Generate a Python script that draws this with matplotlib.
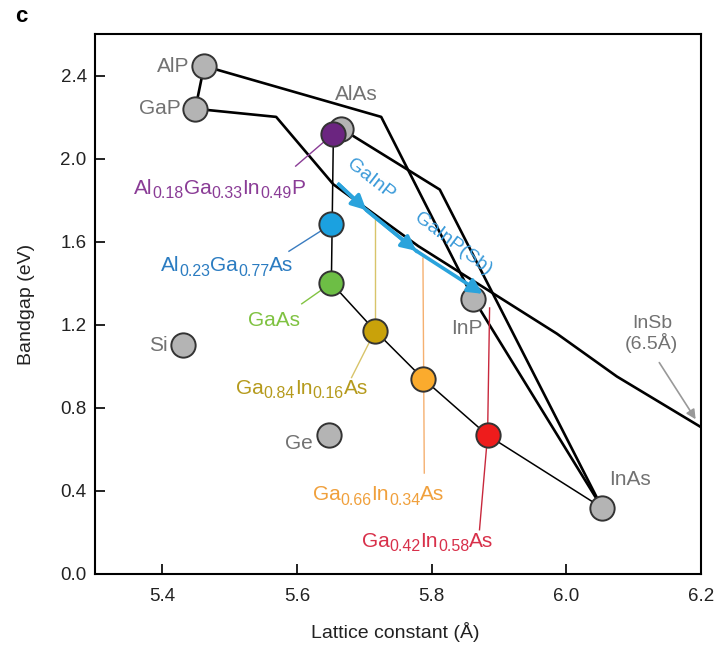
import re
import matplotlib
matplotlib.use('Agg')
import matplotlib.pyplot as plt

plt.rcParams['font.family'] = ['Liberation Sans', 'DejaVu Sans']

# ---------------- data ----------------
# binary / elemental semiconductors (gray circles)
binary_names = ['AlP', 'GaP', 'AlAs', 'InP', 'InAs', 'Si', 'Ge']
binary_a = [5.462, 5.449, 5.666, 5.862, 6.053, 5.431, 5.647]
binary_eg = [2.446, 2.240, 2.144, 1.325, 0.319, 1.104, 0.668]

# alloys (coloured circles)
alloy_labels = ['Al_{0.18}Ga_{0.33}In_{0.49}P',
                'Al_{0.23}Ga_{0.77}As',
                'GaAs',
                'Ga_{0.84}In_{0.16}As',
                'Ga_{0.66}In_{0.34}As',
                'Ga_{0.42}In_{0.58}As']
alloy_a = [5.654, 5.651, 5.651, 5.716, 5.787, 5.883]
alloy_eg = [2.120, 1.684, 1.401, 1.171, 0.941, 0.668]

# alloy lines (lattice constant, bandgap)
alp_gap_a, alp_gap_eg = [5.462, 5.449], [2.446, 2.240]
alp_inp_a, alp_inp_eg = [5.462, 5.725, 5.862], [2.446, 2.201, 1.325]
gap_insb_a = [5.449, 5.569, 5.654, 5.780, 5.883, 5.986, 6.075, 6.200]
gap_insb_eg = [2.240, 2.201, 1.876, 1.579, 1.368, 1.157, 0.951, 0.707]
alas_inas_a, alas_inas_eg = [5.666, 5.812, 6.053], [2.144, 1.851, 0.319]
inp_inas_a, inp_inas_eg = [5.862, 6.053], [1.325, 0.319]
alas_gaas_a, alas_gaas_eg = [5.654, 5.651], [2.120, 1.401]
gaas_inas_a = [5.651, 5.716, 5.787, 5.883, 6.053]
gaas_inas_eg = [1.401, 1.171, 0.941, 0.668, 0.319]

# GaInP arrow path
gainp_a = [5.662, 5.703, 5.777, 5.876]
gainp_eg = [1.876, 1.752, 1.556, 1.349]

xticks = [5.4, 5.6, 5.8, 6.0, 6.2]
yticks = [0.0, 0.4, 0.8, 1.2, 1.6, 2.0, 2.4]

# ---------------- styling ----------------
gray_fill = '#b4b4b4'
edge = '#333333'
txt_gray = '#727272'
alloy_fill = ['#6b2580', '#1ba1e0', '#6dbe45', '#c9a20a', '#fbab2d', '#ee1c1c']
alloy_txt = ['#8a3c96', '#2b7cc1', '#7fc241', '#b59a1c', '#f0a03c', '#d8304a']
alloy_lead = ['#8a3c96', '#3a7cc0', '#82c341', '#d8c46a', '#f5b070', '#c8283c']
blue_arrow = '#2aa3dc'

fig = plt.figure(figsize=(7.21, 6.48), dpi=100)
ax = fig.add_axes([0.1318, 0.1142, 0.8405, 0.8333])
ax.set_xlim(5.3, 6.2)
ax.set_ylim(0, 2.6)
renderer = fig.canvas.get_renderer()

thick = 1.9
thin = 1.1
ax.plot(alp_gap_a, alp_gap_eg, color='k', lw=thick, zorder=2)
ax.plot(alp_inp_a, alp_inp_eg, color='k', lw=thick, zorder=2)
ax.plot(gap_insb_a, gap_insb_eg, color='k', lw=thick, zorder=2, solid_joinstyle='round')
ax.plot(alas_inas_a, alas_inas_eg, color='k', lw=thick, zorder=2)
ax.plot(inp_inas_a, inp_inas_eg, color='k', lw=thick, zorder=2)
ax.plot(alas_gaas_a, alas_gaas_eg, color='k', lw=thin, zorder=2)
ax.plot(gaas_inas_a, gaas_inas_eg, color='k', lw=thin, zorder=2)

# leader lines for alloys
ax.plot([5.598, alloy_a[0]], [1.964, alloy_eg[0]], color=alloy_lead[0], lw=1.0, zorder=2)
ax.plot([5.588, alloy_a[1]], [1.554, alloy_eg[1]], color=alloy_lead[1], lw=1.0, zorder=2)
ax.plot([5.607, alloy_a[2]], [1.301, alloy_eg[2]], color=alloy_lead[2], lw=1.0, zorder=2)
ax.plot([5.681, alloy_a[3]], [0.946, alloy_eg[3]], color=alloy_lead[3], lw=1.0, zorder=2)
ax.plot([alloy_a[3], alloy_a[3]], [1.713, alloy_eg[3]], color=alloy_lead[3], lw=1.0, zorder=2)
ax.plot([alloy_a[4], 5.789], [1.521, 0.486], color=alloy_lead[4], lw=1.0, zorder=2)
ax.plot([5.886, alloy_a[5], 5.871], [1.281, alloy_eg[5], 0.213], color=alloy_lead[5], lw=1.0, zorder=2)

# circles
ms = 17.5
for a, e in zip(binary_a, binary_eg):
    ax.plot(a, e, 'o', ms=ms, mfc=gray_fill, mec=edge, mew=1.4, zorder=3)
for a, e, c in zip(alloy_a, alloy_eg, alloy_fill):
    ax.plot(a, e, 'o', ms=ms, mfc=c, mec=edge, mew=1.4, zorder=4)

# GaInP arrows
ax.plot(gainp_a[:3], gainp_eg[:3], color=blue_arrow, lw=2.6, zorder=5)
for i in range(3):
    ax.annotate('', xy=(gainp_a[i + 1], gainp_eg[i + 1]), xytext=(gainp_a[i], gainp_eg[i]),
                arrowprops=dict(arrowstyle='-|>', color=blue_arrow, lw=2.6,
                                mutation_scale=22, shrinkA=0, shrinkB=0), zorder=5)

fs = 15
sub_fs = 11.5
sub_dy = 3.5


def rich_text(x, y, label, color):
    """Draw label with subscripts, centred horizontally on x, baseline at y."""
    parts = []
    for tok in re.split(r'(_\{[^}]*\})', label):
        if not tok:
            continue
        if tok.startswith('_{'):
            parts.append((tok[2:-1], True))
        else:
            parts.append((tok, False))
    texts = []
    off = 0.0
    for s, sub in parts:
        t = ax.annotate(s, xy=(x, y), xytext=(off, -sub_dy if sub else 0),
                        textcoords='offset points', fontsize=sub_fs if sub else fs,
                        color=color, ha='left', va='baseline', zorder=6)
        w = t.get_window_extent(renderer).width * 72.0 / fig.dpi
        off += w
        texts.append(t)
    for t in texts:
        xo, yo = t.xyann
        t.xyann = (xo - off / 2.0, yo)


# gray labels
ax.text(5.440, 2.446, 'AlP', color=txt_gray, fontsize=fs, ha='right', va='center')
ax.text(5.427, 2.240, 'GaP', color=txt_gray, fontsize=fs, ha='right', va='center')
ax.text(5.688, 2.307, 'AlAs', color=txt_gray, fontsize=fs, ha='center', va='center')
ax.text(5.852, 1.180, 'InP', color=txt_gray, fontsize=fs, ha='center', va='center')
ax.text(6.094, 0.453, 'InAs', color=txt_gray, fontsize=fs, ha='center', va='center')
ax.text(5.408, 1.100, 'Si', color=txt_gray, fontsize=fs, ha='right', va='center')
ax.text(5.623, 0.630, 'Ge', color=txt_gray, fontsize=fs, ha='right', va='center')
ax.text(6.127, 1.157, 'InSb\n(6.5Å)', color=txt_gray, fontsize=14, ha='center',
        va='center', linespacing=1.05)
ax.annotate('', xy=(6.192, 0.745), xytext=(6.138, 1.018),
            arrowprops=dict(arrowstyle='-|>', color='#999999', lw=1.2, mutation_scale=14,
                            shrinkA=0, shrinkB=0))

# alloy labels (centre x, baseline y)
alloy_text_pos = [(5.485, 1.832), (5.496, 1.459), (5.566, 1.195),
                  (5.607, 0.869), (5.721, 0.357), (5.794, 0.132)]
for lab, (x, y), c in zip(alloy_labels, alloy_text_pos, alloy_txt):
    rich_text(x, y, lab, c)

ax.text(5.710, 1.898, 'GaInP', color='#3a9ad9', fontsize=14, rotation=-38,
        ha='center', va='center', rotation_mode='anchor')
ax.text(5.831, 1.588, 'GaInP(Sb)', color='#3a9ad9', fontsize=14, rotation=-37,
        ha='center', va='center', rotation_mode='anchor')

# axes styling
for s in ax.spines.values():
    s.set_linewidth(1.5)
ax.set_xticks(xticks)
ax.set_yticks(yticks)
ax.set_xticklabels([f'{v:.1f}' for v in xticks])
ax.set_yticklabels([f'{v:.1f}' for v in yticks])
ax.tick_params(direction='in', length=7, width=1.4, labelsize=13.5, colors='#222222', pad=6)
ax.tick_params(axis='x', pad=10)
ax.set_xlabel('Lattice constant (Å)', fontsize=14, color='#222222', va='center')
ax.set_ylabel('Bandgap (eV)', fontsize=14, color='#222222', va='center')
ax.xaxis.set_label_coords(0.495, -0.108)
ax.yaxis.set_label_coords(-0.113, 0.5)

fig.text(0.030, 0.975, 'c', fontsize=16, fontweight='bold', ha='center', va='center')

fig.savefig('out.png', dpi=100)
